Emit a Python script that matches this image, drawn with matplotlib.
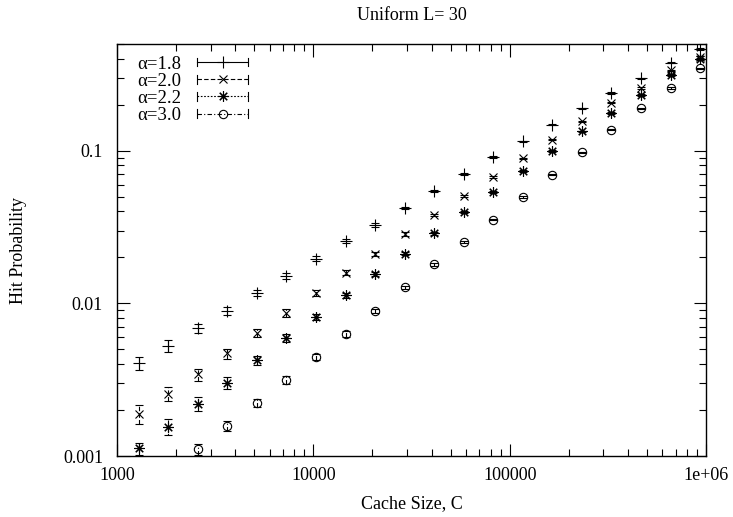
import matplotlib
matplotlib.use("Agg")
import matplotlib.pyplot as plt
from matplotlib.lines import Line2D
from matplotlib.legend_handler import HandlerBase
from matplotlib.ticker import FixedLocator, FixedFormatter, LogLocator, NullFormatter

plt.rcParams['font.family'] = ['Liberation Serif', 'DejaVu Serif']

# ---------------- data ----------------
cache_size = [1290, 1820, 2580, 3650, 5160, 7300, 10300, 14600, 20600, 29200,
              41300, 58400, 82600, 117000, 165000, 234000, 330000, 467000, 661000, 934000]

hit_a18 = [0.00404, 0.00527, 0.00687, 0.00895, 0.0117, 0.0151, 0.0196, 0.0255, 0.0326, 0.0423,
           0.0547, 0.0706, 0.0908, 0.1153, 0.148, 0.189, 0.239, 0.298, 0.378, 0.463]
err_a18 = [0.10, 0.09, 0.07, 0.056, 0.05, 0.045, 0.038, 0.03, 0.023, 0.018,
           0.015, 0.012, 0.01, 0.01, 0.01, 0.01, 0.01, 0.01, 0.01, 0.01]

hit_a20 = [0.00189, 0.00256, 0.00343, 0.0047, 0.00637, 0.00865, 0.0117, 0.0159, 0.0212, 0.0285,
           0.038, 0.0505, 0.067, 0.089, 0.118, 0.156, 0.206, 0.258, 0.336, 0.412]
err_a20 = [0.14, 0.11, 0.09, 0.075, 0.06, 0.06, 0.05, 0.04, 0.03, 0.025,
           0.02, 0.015, 0.012, 0.01, 0.01, 0.01, 0.01, 0.01, 0.01, 0.01]

hit_a22 = [0.00112, 0.00156, 0.0022, 0.00302, 0.00425, 0.0059, 0.00813, 0.0113, 0.0155, 0.0212,
           0.0288, 0.0395, 0.0537, 0.0735, 0.0996, 0.134, 0.177, 0.232, 0.313, 0.397]
err_a22 = [0.09, 0.12, 0.11, 0.09, 0.07, 0.06, 0.05, 0.04, 0.03, 0.025,
           0.02, 0.015, 0.012, 0.01, 0.01, 0.01, 0.01, 0.01, 0.01, 0.01]

cache_size_a30 = cache_size[2:]
hit_a30 = [0.00111, 0.00158, 0.00223, 0.00313, 0.00447, 0.00631, 0.00895, 0.01276, 0.0180, 0.0251,
           0.0354, 0.0498, 0.0698, 0.0975, 0.137, 0.189, 0.258, 0.347]
err_a30 = [0.08, 0.08, 0.06, 0.06, 0.045, 0.04, 0.03, 0.025, 0.02, 0.015,
           0.012, 0.01, 0.01, 0.01, 0.01, 0.01, 0.01, 0.01]

labels = ["α=1.8", "α=2.0", "α=2.2", "α=3.0"]
title = "Uniform L= 30"
xlabel = "Cache Size, C"
ylabel = "Hit Probability"
xticks = [1000, 10000, 100000, 1000000]
xticklabels = ["1000", "10000", "100000", "1e+06"]
yticks = [0.001, 0.01, 0.1]
yticklabels = ["0.001", "0.01", "0.1"]

# ---------------- styling ----------------
series = [
    (cache_size, hit_a18, err_a18, '+', '-', 8),
    (cache_size, hit_a20, err_a20, 'x', (0, (4, 2)), 6),
    (cache_size, hit_a22, err_a22, (8, 2, 0), (0, (1.5, 1.5)), 7.5),
    (cache_size_a30, hit_a30, err_a30, 'o', (0, (4, 2, 1, 2)), 6),
]

W, H = 733, 517
fig = plt.figure(figsize=(W / 100, H / 100), dpi=100)
left, right, top, bottom = 117, 706, 44, 456
ax = fig.add_axes([left / W, 1 - bottom / H, (right - left) / W, (bottom - top) / H])
ax.set_xscale('log')
ax.set_yscale('log')

FS = 13
lw = 0.8

for xs, ys, rel, mk, ls, ms in series:
    yerr = [y * r for y, r in zip(ys, rel)]
    line, caps, bars = ax.errorbar(xs, ys, yerr=yerr, fmt='none', ecolor='black',
                                   elinewidth=lw, capsize=3, capthick=lw)
    for b in bars:
        b.set_linestyle(ls)
    ax.plot(xs, ys, linestyle='none', marker=mk, markersize=ms, color='black',
            markerfacecolor='none', markeredgecolor='black', markeredgewidth=lw)

ax.set_xlim(1000, 1000000)
ax.set_ylim(0.001, 0.5)

ax.xaxis.set_major_locator(FixedLocator(xticks))
ax.xaxis.set_major_formatter(FixedFormatter(xticklabels))
ax.yaxis.set_major_locator(FixedLocator(yticks))
ax.yaxis.set_major_formatter(FixedFormatter(yticklabels))
ax.xaxis.set_minor_locator(LogLocator(base=10, subs=range(2, 10)))
ax.yaxis.set_minor_locator(LogLocator(base=10, subs=range(2, 10)))
ax.xaxis.set_minor_formatter(NullFormatter())
ax.yaxis.set_minor_formatter(NullFormatter())
ax.tick_params(which='both', direction='in', top=True, right=True, labelsize=FS,
               width=lw, colors='black')
ax.tick_params(which='major', length=9)
ax.tick_params(axis='x', which='major', pad=8)
ax.tick_params(axis='y', which='major', pad=10)
ax.tick_params(which='minor', length=5)
for s in ax.spines.values():
    s.set_linewidth(1.0)

ax.set_xlabel(xlabel, fontsize=FS, labelpad=8)
ax.set_ylabel(ylabel, fontsize=FS, labelpad=26)
fig.text(0.5 * (left + right) / W, 1 - 16 / H, title, fontsize=FS, ha='center', va='center')


class GnuKeyHandler(HandlerBase):
    def __init__(self, marker, ls, ms):
        super().__init__()
        self.marker, self.ls, self.ms = marker, ls, ms

    def create_artists(self, legend, orig_handle, xdescent, ydescent, width, height,
                       fontsize, trans):
        yc = height / 2 - ydescent
        x0, x1 = -xdescent, width - xdescent
        h = 3
        arts = [
            Line2D([x0, x1], [yc, yc], color='black', lw=lw, linestyle=self.ls),
            Line2D([x0, x0], [yc - h, yc + h], color='black', lw=lw),
            Line2D([x1, x1], [yc - h, yc + h], color='black', lw=lw),
            Line2D([(x0 + x1) / 2], [yc], marker=self.marker, markersize=self.ms,
                   color='black', markerfacecolor='none', lw=lw, markeredgewidth=lw),
        ]
        for a in arts:
            a.set_transform(trans)
        return arts


handles = []
hmap = {}
for (xs, ys, rel, mk, ls, ms), lab in zip(series, labels):
    h = Line2D([], [], color='black')
    handles.append(h)
    hmap[h] = GnuKeyHandler(mk, ls, ms)

LFS = 13.5
leg = ax.legend(handles, labels, handler_map=hmap, loc='upper left',
                bbox_to_anchor=(0.0155, 0.999), frameon=False, fontsize=LFS,
                markerfirst=False, handlelength=2.75, handletextpad=0.82,
                labelspacing=0.0, borderaxespad=0.2, borderpad=0.4)

fig.savefig("out.png", dpi=100)
